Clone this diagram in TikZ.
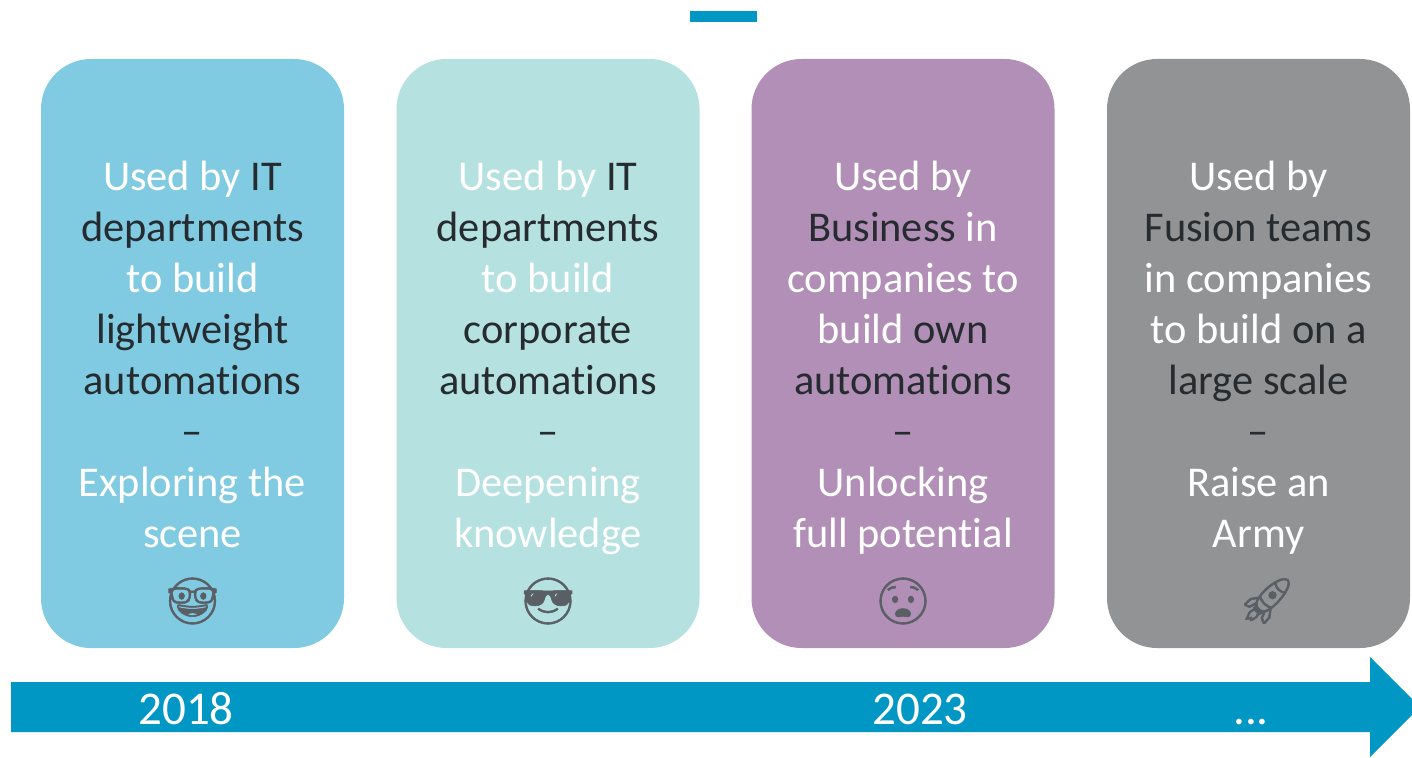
\documentclass[tikz,border=0pt]{standalone}
\usepackage{fontspec}
\setmainfont[Ligatures=CommonOff]{Carlito}
\newfontfamily\emojifont[FakeBold=1.2]{Noto Emoji}
\definecolor{cardblue}{HTML}{80CBE2}
\definecolor{cardteal}{HTML}{B5E1E0}
\definecolor{cardplum}{HTML}{B28FB6}
\definecolor{cardgray}{HTML}{929394}
\definecolor{barblue}{HTML}{0097C4}
\definecolor{inkdark}{HTML}{262B30}
\definecolor{emojigray}{HTML}{5A5F66}
\newcommand{\dk}[1]{\textcolor{inkdark}{#1}}
\tikzset{
  card/.style={
    rectangle, rounded corners=50pt, minimum height=589pt, minimum width=303pt, inner sep=0pt
  },
  cardtext/.style={
    text=white, align=flush center, text width=300pt, inner sep=0pt, anchor=north,
    font=\fontsize{42.4}{51}\selectfont
  },
  emoji/.style={
    text=emojigray, inner sep=0pt, font=\emojifont\fontsize{46}{46}\selectfont
  },
  yearlabel/.style={
    text=white, inner sep=0pt, anchor=base, font=\fontsize{47}{47}\selectfont
  }
}

\begin{document}
\begin{tikzpicture}[x=1pt,y=-1pt]
  \useasboundingbox (0, 0) rectangle (1412, 757);

  \fill[barblue] (690, 11) rectangle (757, 22);

  \node[card, fill=cardblue] (card1) at (192.5, 353.5) {};
  \node[card, fill=cardteal] (card2) at (548, 353.5) {};
  \node[card, fill=cardplum] (card3) at (903, 353.5) {};
  \node[card, fill=cardgray] (card4) at (1258.5, 353.5) {};

  \node[cardtext] (text1) at (192.5, 161) {Used by \dk{IT}\\\dk{departments}\\to build\\\dk{lightweight}\\\dk{automations}\\\dk{--}\\Exploring the\\scene};
  \node[cardtext] (text2) at (548, 161) {Used by \dk{IT}\\\dk{departments}\\to build\\\dk{corporate}\\\dk{automations}\\\dk{--}\\Deepening\\knowledge};
  \node[cardtext] (text3) at (903, 161) {Used by\\\dk{Business} in\\companies to\\build \dk{own}\\\dk{automations}\\\dk{--}\\Unlocking\\full potential};
  \node[cardtext] (text4) at (1258.5, 161) {Used by\\\dk{Fusion teams}\\in companies\\to build \dk{on a}\\\dk{large scale}\\\dk{--}\\Raise an\\Army};

  \node[emoji] (face1) at (192.5, 601) {^^^^^^01f913};
  \node[emoji] (face2) at (548, 601) {^^^^^^01f60e};
  \node[emoji] (face3) at (903, 601) {^^^^^^01f627};
  \node[emoji] (rocket) at (1267, 601) {^^^^^^01f680};

  % the tip runs off the right edge
  \fill[barblue] (11, 682) -- (1370, 682) -- (1370, 657) -- (1412, 699) -- (1412, 715)
    -- (1370, 757) -- (1370, 732) -- (11, 732) -- cycle;

  \node[yearlabel] (year1) at (186, 724) {2018};
  \node[yearlabel] (year2) at (920, 724) {2023};
  \node[yearlabel] (year3) at (1251, 724) {...};
\end{tikzpicture}
\end{document}
